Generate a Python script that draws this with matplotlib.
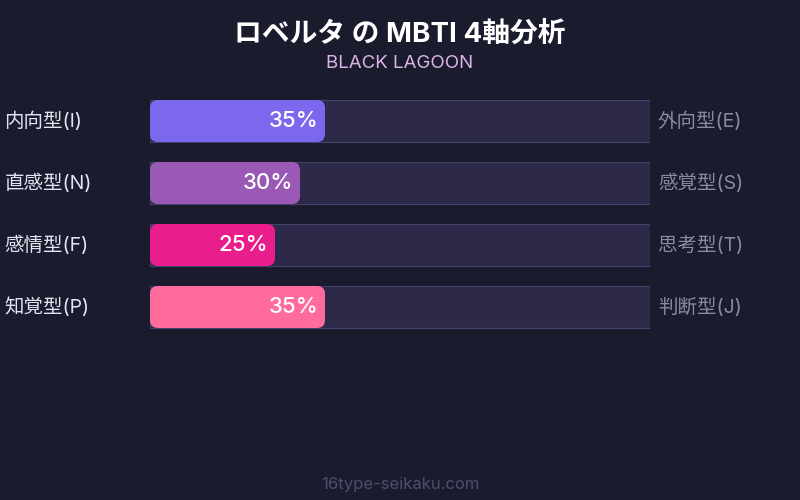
import matplotlib.pyplot as plt
from matplotlib.patches import FancyBboxPatch

plt.rcParams['font.family'] = ['Noto Sans CJK JP', 'DejaVu Sans']

title = 'ロベルタ の MBTI 4軸分析'
subtitle = 'BLACK LAGOON'
footer = '16type-seikaku.com'
left_labels = ['内向型(I)', '直感型(N)', '感情型(F)', '知覚型(P)']
right_labels = ['外向型(E)', '感覚型(S)', '思考型(T)', '判断型(J)']
values = [35, 30, 25, 35]
colors = ['#7b68ee', '#9b59b6', '#e91e8c', '#ff6b9d']

bg = '#1b1b2e'
track = '#2c2a48'
track_edge = '#44426a'
lat = ['Inter', 'Noto Sans CJK JP', 'DejaVu Sans']

fig = plt.figure(figsize=(8, 5), dpi=100, facecolor=bg)
# axes spans the track area: x 150..650 px, y 90..338 px from top
ax = fig.add_axes([150 / 800, 1 - 338 / 500, 500 / 800, 248 / 500])
ax.set_facecolor('none')
ax.set_xlim(0, 100)
ax.set_ylim(len(values) - 0.5, -0.5)
ax.axis('off')

bar_h = 42 / 62
# aspect fix so the corner rounding is round in pixels
asp = (1 / 62) / (1 / 5)
rad = 8 / 5

for i, (v, c) in enumerate(zip(values, colors)):
    y0 = i - bar_h / 2
    ax.add_patch(plt.Rectangle((0, y0), 100, bar_h, facecolor=track,
                               edgecolor=track_edge, linewidth=0.8))
    ax.add_patch(FancyBboxPatch((0, y0), v, bar_h,
                                boxstyle=f'round,pad=0,rounding_size={rad}',
                                mutation_aspect=asp, facecolor=c,
                                edgecolor='none'))
    ax.text(v - 1.3, i, f'{v}%', ha='right', va='center',
            fontsize=16, color='white', fontweight='medium', family=lat)
    ax.text(-29.1, i, left_labels[i], ha='left', va='center',
            fontsize=14, color='#e4e4f2', family=lat)
    ax.text(101.6, i, right_labels[i], ha='left', va='center',
            fontsize=14, color='#8a8aa2', family=lat)

fig.text(0.5, 1 - 35 / 500, title, ha='center', va='center',
         fontsize=20, fontweight='bold', color='white', family=lat)
fig.text(0.5, 1 - 64 / 500, subtitle, ha='center', va='center',
         fontsize=13.5, color='#dcb4e6', family=lat)
fig.text(0.5, 1 - 484 / 500, footer, ha='center', va='center',
         fontsize=12, color='#4e4e6c', family=lat)

fig.savefig('out.png', dpi=100, facecolor=bg)
